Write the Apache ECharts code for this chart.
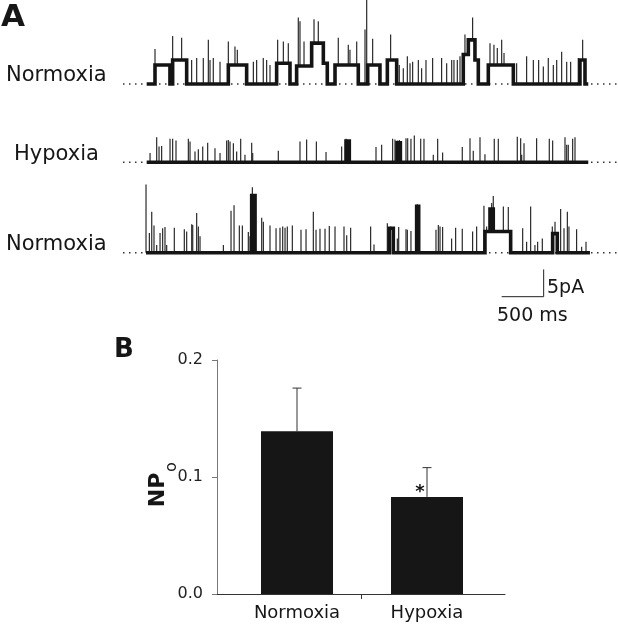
<!DOCTYPE html>
<html><head><meta charset="utf-8">
<script src="https://cdn.jsdelivr.net/npm/echarts@6/dist/echarts.min.js"></script>
<style>html,body{margin:0;padding:0;background:#fff}#c{width:618px;height:625px}</style>
</head><body><div id="c"></div>
<script>
// ---------- Panel A: single-channel traces (time in ms, current in pA) ----------
const traceLabels = ['Normoxia', 'Hypoxia', 'Normoxia'];
const traceStart = [20, 20, 12];
const traceEnd = [5277, 5277, 5297];

// sustained open levels: [start ms, end ms, pA]
const levels1 = [[119,297,3.5],[329,496,4.4],[992,1210,3.5],[1567,1726,3.8],[1805,1984,3.3],[1984,2123,7.5],[2123,2170,3.8],[2262,2539,3.5],[2651,2797,3.5],[2885,2996,4.4],[3789,3849,5.4],[3849,3928,8.1],[3928,3968,4.4],[4087,4385,3.5],[5178,5238,4.4]];
const levels2 = [[2393,2432,3.9],[3000,3040,3.6]];
const levels3 = [[1270,1310,10.5],[2908,2956,4.5],[3234,3258,8.5],[4047,4107,3.9],[4107,4146,8.0],[4146,4353,3.9],[4853,4908,3.5]];

// brief openings: [time ms, peak pA]
const spikes1 = [[119,6.4],[329,8.8],[436,8.5],[555,4.4],[615,4.75],[694,4.75],[754,8.1],[774,4.4],[813,4.75],[893,4.1],[992,7.8],[1071,6.9],[1099,6.3],[1290,4.1],[1329,4.4],[1408,4.75],[1448,4.4],[1488,3.5],[1579,8.1],[1647,7.8],[1706,7.5],[1825,12.2],[1845,11.5],[1893,7.8],[2012,11.9],[2063,11.5],[2301,8.5],[2420,7.2],[2440,6.3],[2520,7.8],[2619,10.0],[2639,15.5],[2710,8.3],[2924,9.1],[3027,3.5],[3075,2.9],[3123,5.1],[3155,3.8],[3186,4.1],[3254,4.4],[3293,2.9],[3345,4.4],[3424,4.75],[3531,4.75],[3591,3.8],[3651,4.4],[3678,4.4],[3718,4.4],[3750,5.1],[3809,9.1],[3900,12.2],[4107,7.5],[4154,7.2],[4194,6.6],[4246,8.1],[4274,5.7],[4424,3.8],[4543,5.1],[4623,4.4],[4686,4.4],[4742,3.2],[4801,4.75],[4861,3.5],[4901,4.4],[4960,5.9],[5020,4.1],[5067,4.1],[5158,4.75],[5210,8.1]];
const spikes2 = [[60,1.7],[139,4.6],[167,2.9],[198,3.0],[298,4.3],[329,4.3],[369,4.0],[516,4.3],[536,3.8],[595,2.0],[635,2.4],[687,2.9],[746,3.6],[833,2.6],[893,1.7],[972,4.0],[992,4.1],[1012,3.8],[1052,3.5],[1091,2.0],[1139,4.3],[1190,1.4],[1270,3.6],[1282,1.7],[1587,2.1],[1845,3.8],[1924,4.2],[2040,3.8],[2155,1.9],[2341,2.9],[2393,4.3],[2420,4.0],[2750,2.8],[2817,3.2],[2948,4.3],[2976,4.2],[3004,4.0],[3028,4.1],[3107,4.4],[3127,4.4],[3166,4.3],[3206,4.9],[3282,4.3],[3321,4.3],[3432,1.4],[3484,4.3],[3543,1.8],[3777,2.8],[3869,4.4],[3908,2.1],[3988,4.6],[4047,1.5],[4158,4.3],[4206,4.3],[4432,4.7],[4472,4.4],[4484,1.4],[4512,3.5],[4662,4.4],[4813,4.3],[4853,4.0],[5000,4.6],[5020,3.2],[5039,3.2],[5091,4.3],[5119,4.6]];
const spikes3 = [[12,12.5],[52,3.6],[80,7.5],[107,5.0],[139,1.4],[179,3.6],[210,4.5],[238,4.7],[258,1.4],[349,4.6],[468,4.3],[496,3.9],[556,5.2],[568,5.1],[615,7.3],[635,4.8],[655,3.0],[933,1.4],[1024,7.7],[1060,8.7],[1123,5.0],[1159,5.0],[1230,3.8],[1250,3.0],[1278,12.0],[1389,6.4],[1409,5.7],[1488,5.0],[1560,4.5],[1607,4.6],[1639,4.8],[1667,4.6],[1694,4.8],[1754,5.0],[1857,4.2],[1917,4.3],[2004,7.5],[2036,4.2],[2083,4.4],[2143,4.4],[2194,4.9],[2262,4.8],[2369,4.8],[2401,3.2],[2448,4.6],[2686,4.8],[2726,1.5],[2885,5.4],[2924,4.8],[3004,2.6],[3020,4.7],[3107,4.3],[3123,4.2],[3166,4.0],[3242,8.9],[3464,4.2],[3492,5.1],[3512,4.8],[3543,4.7],[3650,2.6],[3698,4.6],[3777,4.4],[3900,3.9],[3948,4.8],[4035,8.6],[4067,4.8],[4127,9.1],[4146,10.4],[4266,8.5],[4325,8.4],[4496,4.5],[4543,2.0],[4591,8.5],[4642,1.4],[4674,2.0],[4730,2.6],[4849,4.8],[4881,5.7],[4948,8.0],[4988,4.5],[5028,7.5],[5047,4.8],[5138,4.3],[5198,1.1],[5250,2.0]];

const scaleBarMs = 500;
const scaleBarPA = 5;

// ---------- Panel B: NPo bar chart ----------
const categories = ['Normoxia', 'Hypoxia'];
const npoMean = [0.139, 0.083];
const npoSem = [0.037, 0.025];
const significance = ['', '*'];
const yTicks = [0, 0.1, 0.2];

// ---------- layout constants ----------
const FONT = '"DejaVu Sans", "Liberation Sans", Arial, sans-serif';
const PX_PER_PA = 5.45;
const X_MIN = -262, X_MAX = 5619;          // time axis extent (ms) incl. dotted baselines
const traceLayout = [
  {top: 84 - 15.4 * PX_PER_PA, yMin: -3, yMax: 15.4},
  {top: 162.3 - 6 * PX_PER_PA, yMin: -3, yMax: 6},
  {top: 252.7 - 13 * PX_PER_PA, yMin: -10, yMax: 13}
];
const scaleBarAt = {t: 4246, y: -8.07};   // position of the scale bar corner in trace-3 coordinates

const levelsAll = [levels1, levels2, levels3];
const spikesAll = [spikes1, spikes2, spikes3];

function stepData(start, end, levels) {
  const pts = [[start, 0]];
  let prevEnd = null;
  for (const [s, e, l] of levels) {
    if (prevEnd !== null && prevEnd !== s) pts.push([prevEnd, 0]);
    if (prevEnd !== s) pts.push([s, 0]);
    pts.push([s, l], [e, l]);
    prevEnd = e;
  }
  if (prevEnd !== null) pts.push([prevEnd, 0]);
  pts.push([end, 0]);
  return pts;
}
function levelAt(levels, t) {
  for (const [s, e, l] of levels) if (t >= s && t <= e) return l;
  return 0;
}

const grids = [], xAxes = [], yAxes = [], series = [];
traceLayout.forEach((g, i) => {
  grids.push({left: 123, width: 494, top: g.top, height: (g.yMax - g.yMin) * PX_PER_PA});
  xAxes.push({type: 'value', gridIndex: i, min: X_MIN, max: X_MAX, show: false});
  yAxes.push({type: 'value', gridIndex: i, min: g.yMin, max: g.yMax, show: false});
  // dotted closed-state baseline
  series.push({type: 'line', xAxisIndex: i, yAxisIndex: i, data: [[X_MIN, 0], [X_MAX, 0]],
    symbol: 'none', silent: true, z: 1,
    lineStyle: {color: '#333', width: 1.4, type: [1.5, 4.5]}});
  // sustained levels (thick noisy-looking trace)
  series.push({type: 'line', xAxisIndex: i, yAxisIndex: i, clip: false,
    data: stepData(traceStart[i], traceEnd[i], levelsAll[i]),
    symbol: 'none', silent: true, z: 3,
    lineStyle: {color: '#141414', width: 3.6, join: 'miter'}});
  // brief openings
  series.push({type: 'custom', xAxisIndex: i, yAxisIndex: i, silent: true, z: 2, clip: false,
    data: spikesAll[i].map(([t, a]) => [t, a, levelAt(levelsAll[i], t)]),
    renderItem: (p, api) => {
      const a = api.coord([api.value(0), api.value(2)]);
      const b = api.coord([api.value(0), api.value(1)]);
      return {type: 'line', shape: {x1: a[0], y1: a[1], x2: b[0], y2: b[1]},
        style: {stroke: '#2a2a2a', lineWidth: 1.2}};
    }});
});
// scale bar (drawn in trace-3 coordinates)
series.push({type: 'line', xAxisIndex: 2, yAxisIndex: 2, symbol: 'none', silent: true, clip: false,
  data: [[scaleBarAt.t, scaleBarAt.y], [scaleBarAt.t + scaleBarMs, scaleBarAt.y], [scaleBarAt.t + scaleBarMs, scaleBarAt.y + scaleBarPA]],
  lineStyle: {color: '#222', width: 1}});

// Panel B axes grid (axis lines) and bar grid
grids.push({left: 217, top: 360, width: 288, height: 234});
xAxes.push({type: 'value', gridIndex: 3, min: 0, max: 2,
  axisLine: {show: true, lineStyle: {color: '#333', width: 1}},
  axisTick: {show: true, customValues: [1], length: 5, lineStyle: {color: '#333'}},
  axisLabel: {show: false}, splitLine: {show: false}});
yAxes.push({type: 'value', gridIndex: 3, min: yTicks[0], max: yTicks[yTicks.length - 1], interval: yTicks[1] - yTicks[0], offset: 6,
  axisLine: {show: true, lineStyle: {color: '#777', width: 1}},
  axisTick: {show: true, length: 5, lineStyle: {color: '#777'}},
  axisLabel: {formatter: v => v.toFixed(1), fontSize: 16, fontFamily: FONT, color: '#222', margin: 8},
  splitLine: {show: false}});

grids.push({left: 232, top: 360, width: 260, height: 234});
xAxes.push({type: 'category', gridIndex: 4, data: categories,
  axisLine: {show: false}, axisTick: {show: false},
  axisLabel: {fontSize: 18, fontFamily: FONT, color: '#161616', margin: 10}});
yAxes.push({type: 'value', gridIndex: 4, min: yTicks[0], max: yTicks[yTicks.length - 1], show: false});

series.push({type: 'bar', xAxisIndex: 4, yAxisIndex: 4, data: npoMean, barWidth: 72,
  itemStyle: {color: '#161616'}, silent: true, z: 2});
series.push({type: 'custom', xAxisIndex: 4, yAxisIndex: 4, silent: true, z: 3,
  data: categories.map((c, i) => [i, npoMean[i], npoSem[i]]),
  renderItem: (p, api) => {
    const i = api.value(0), m = api.value(1), e = api.value(2);
    const p0 = api.coord([i, m]), p1 = api.coord([i, m + e]);
    const hw = 4.5;
    const children = [
      {type: 'line', shape: {x1: p0[0], y1: p0[1], x2: p1[0], y2: p1[1]}, style: {stroke: '#333', lineWidth: 1}},
      {type: 'line', shape: {x1: p1[0] - hw, y1: p1[1], x2: p1[0] + hw, y2: p1[1]}, style: {stroke: '#333', lineWidth: 1}}
    ];
    if (significance[i]) children.push({type: 'text', x: p0[0] - 7, y: p0[1] - 5,
      style: {text: significance[i], font: 'bold 18px ' + FONT, fill: '#111', align: 'center', verticalAlign: 'middle'}});
    return {type: 'group', children};
  }});

function label(text, x, y, size, opts) {
  return Object.assign({type: 'text', x, y, silent: true,
    style: Object.assign({text, font: size + 'px ' + FONT, fill: '#161616', align: 'left', verticalAlign: 'middle'}, (opts && opts.style) || {})},
    (opts && opts.el) || {});
}

const chart = echarts.init(document.getElementById('c'), null, {renderer: 'canvas'});
chart.setOption({
  backgroundColor: '#fff',
  animation: false,
  grid: grids, xAxis: xAxes, yAxis: yAxes, series,
  graphic: [
    label('A', 13, 18, 31, {style: {font: 'bold 31px ' + FONT, align: 'center'}}),
    label('B', 124, 350, 26, {style: {font: 'bold 26px ' + FONT, align: 'center'}}),
    label(traceLabels[0], 6, 76, 21),
    label(traceLabels[1], 14, 155, 21),
    label(traceLabels[2], 6, 245, 21),
    label(scaleBarPA + 'pA', 547, 288, 19),
    label(scaleBarMs + ' ms', 497, 316, 19),
    label('NP', 158, 490, 22, {style: {font: 'bold 22px ' + FONT, align: 'center'}, el: {rotation: Math.PI / 2}}),
    label('o', 172, 467, 16, {style: {align: 'center'}, el: {rotation: Math.PI / 2}})
  ]
});
</script></body></html>
